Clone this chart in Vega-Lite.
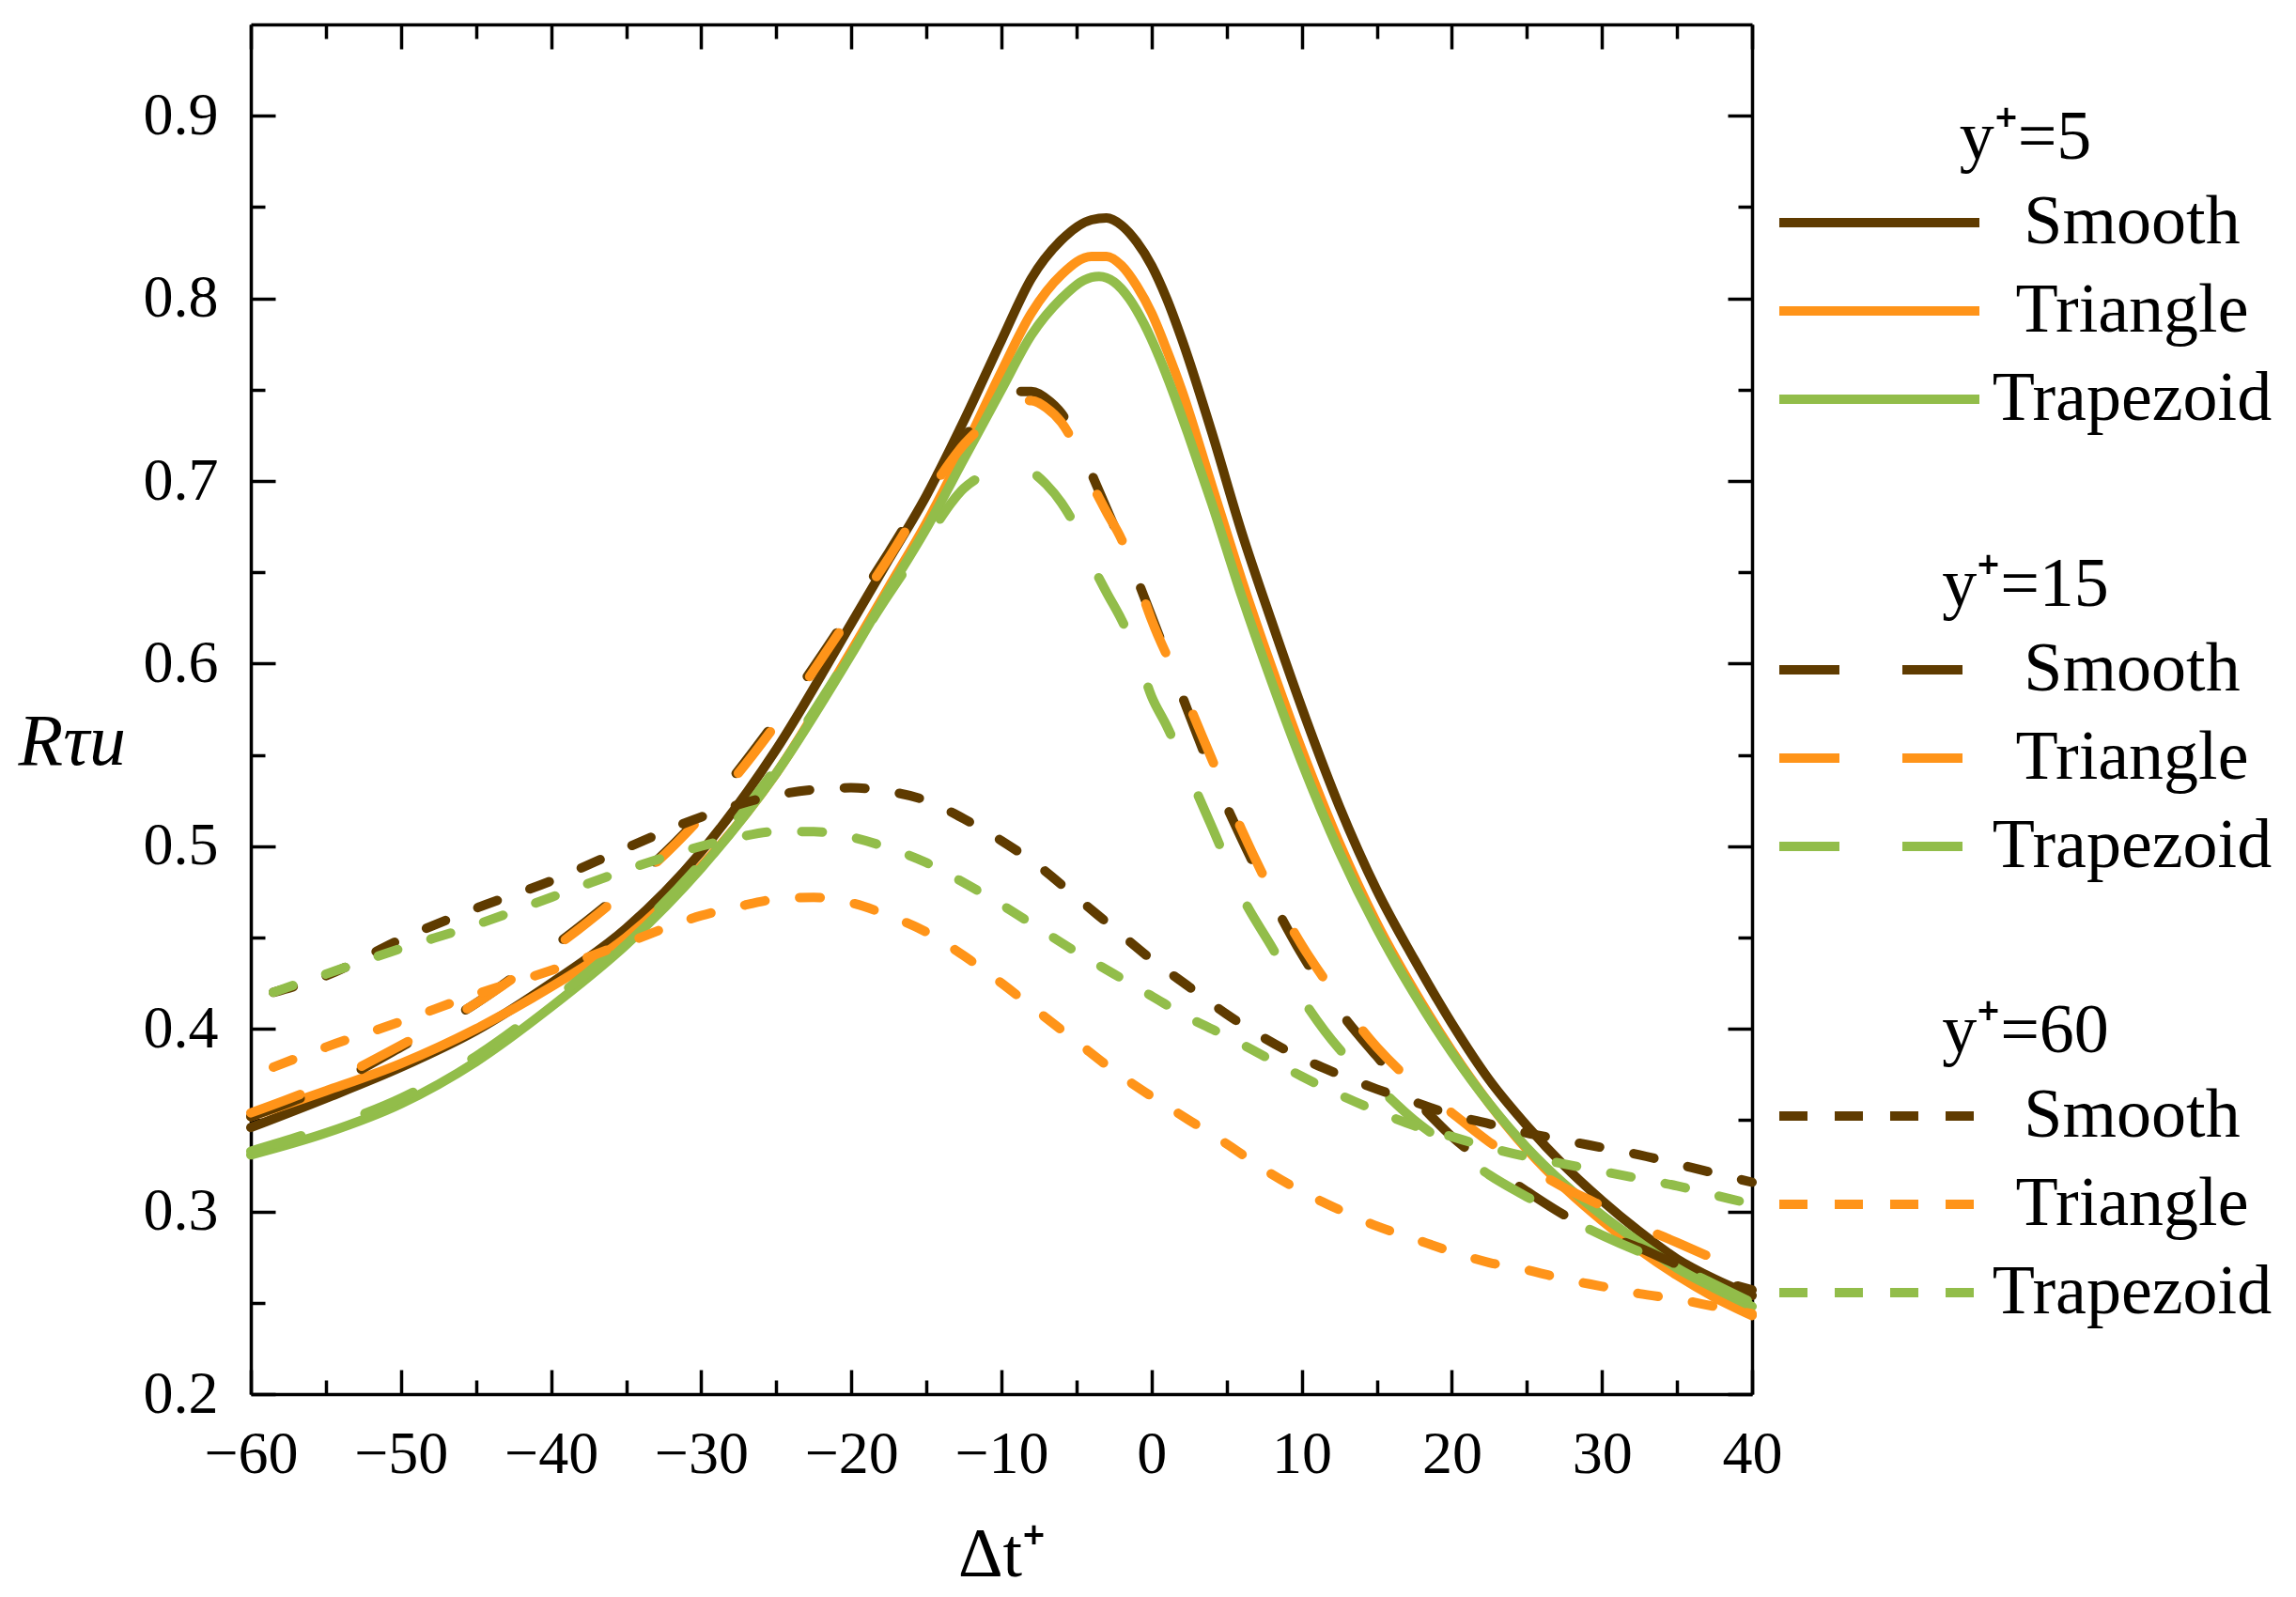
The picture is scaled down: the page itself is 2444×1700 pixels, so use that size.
{
  "$schema": "https://vega.github.io/schema/vega-lite/v6.json",
  "width": 1598,
  "height": 1458,
  "autosize": {"type": "none"},
  "padding": {"left": 267, "top": 26, "right": 579, "bottom": 216},
  "background": "white",
  "data": {
    "values": [
      {"g": "y5", "s": "Smooth", "x": -60, "v": 0.346}, {"g": "y5", "s": "Smooth", "x": -55, "v": 0.362}, {"g": "y5", "s": "Smooth", "x": -50, "v": 0.379}, {"g": "y5", "s": "Smooth", "x": -45, "v": 0.399}, {"g": "y5", "s": "Smooth", "x": -40, "v": 0.425}, {"g": "y5", "s": "Smooth", "x": -35, "v": 0.455}, {"g": "y5", "s": "Smooth", "x": -30, "v": 0.497}, {"g": "y5", "s": "Smooth", "x": -25, "v": 0.553}, {"g": "y5", "s": "Smooth", "x": -20, "v": 0.622}, {"g": "y5", "s": "Smooth", "x": -17.5, "v": 0.657}, {"g": "y5", "s": "Smooth", "x": -15, "v": 0.692}, {"g": "y5", "s": "Smooth", "x": -12.5, "v": 0.733}, {"g": "y5", "s": "Smooth", "x": -10, "v": 0.777}, {"g": "y5", "s": "Smooth", "x": -8, "v": 0.811}, {"g": "y5", "s": "Smooth", "x": -6, "v": 0.832}, {"g": "y5", "s": "Smooth", "x": -4, "v": 0.843}, {"g": "y5", "s": "Smooth", "x": -3, "v": 0.844}, {"g": "y5", "s": "Smooth", "x": -2, "v": 0.840}, {"g": "y5", "s": "Smooth", "x": -1, "v": 0.831}, {"g": "y5", "s": "Smooth", "x": 0, "v": 0.818}, {"g": "y5", "s": "Smooth", "x": 1, "v": 0.800}, {"g": "y5", "s": "Smooth", "x": 2, "v": 0.778}, {"g": "y5", "s": "Smooth", "x": 4, "v": 0.727}, {"g": "y5", "s": "Smooth", "x": 6, "v": 0.672}, {"g": "y5", "s": "Smooth", "x": 8, "v": 0.623}, {"g": "y5", "s": "Smooth", "x": 10, "v": 0.576}, {"g": "y5", "s": "Smooth", "x": 12.5, "v": 0.522}, {"g": "y5", "s": "Smooth", "x": 15, "v": 0.476}, {"g": "y5", "s": "Smooth", "x": 17.5, "v": 0.438}, {"g": "y5", "s": "Smooth", "x": 20, "v": 0.403}, {"g": "y5", "s": "Smooth", "x": 22.5, "v": 0.372}, {"g": "y5", "s": "Smooth", "x": 25, "v": 0.347}, {"g": "y5", "s": "Smooth", "x": 27.5, "v": 0.325}, {"g": "y5", "s": "Smooth", "x": 30, "v": 0.306}, {"g": "y5", "s": "Smooth", "x": 32.5, "v": 0.289}, {"g": "y5", "s": "Smooth", "x": 35, "v": 0.274}, {"g": "y5", "s": "Smooth", "x": 37.5, "v": 0.263}, {"g": "y5", "s": "Smooth", "x": 40, "v": 0.254},

      {"g": "y5", "s": "Triangle", "x": -60, "v": 0.352}, {"g": "y5", "s": "Triangle", "x": -55, "v": 0.366}, {"g": "y5", "s": "Triangle", "x": -50, "v": 0.381}, {"g": "y5", "s": "Triangle", "x": -45, "v": 0.400}, {"g": "y5", "s": "Triangle", "x": -40, "v": 0.423}, {"g": "y5", "s": "Triangle", "x": -35, "v": 0.450}, {"g": "y5", "s": "Triangle", "x": -30, "v": 0.489}, {"g": "y5", "s": "Triangle", "x": -25, "v": 0.540}, {"g": "y5", "s": "Triangle", "x": -20, "v": 0.607}, {"g": "y5", "s": "Triangle", "x": -17.5, "v": 0.642}, {"g": "y5", "s": "Triangle", "x": -15, "v": 0.677}, {"g": "y5", "s": "Triangle", "x": -12.5, "v": 0.717}, {"g": "y5", "s": "Triangle", "x": -10, "v": 0.760}, {"g": "y5", "s": "Triangle", "x": -8, "v": 0.792}, {"g": "y5", "s": "Triangle", "x": -6, "v": 0.813}, {"g": "y5", "s": "Triangle", "x": -4, "v": 0.823}, {"g": "y5", "s": "Triangle", "x": -3, "v": 0.823}, {"g": "y5", "s": "Triangle", "x": -2, "v": 0.818}, {"g": "y5", "s": "Triangle", "x": -1, "v": 0.807}, {"g": "y5", "s": "Triangle", "x": 0, "v": 0.792}, {"g": "y5", "s": "Triangle", "x": 1, "v": 0.772}, {"g": "y5", "s": "Triangle", "x": 2, "v": 0.750}, {"g": "y5", "s": "Triangle", "x": 4, "v": 0.698}, {"g": "y5", "s": "Triangle", "x": 6, "v": 0.646}, {"g": "y5", "s": "Triangle", "x": 8, "v": 0.598}, {"g": "y5", "s": "Triangle", "x": 10, "v": 0.553}, {"g": "y5", "s": "Triangle", "x": 12.5, "v": 0.502}, {"g": "y5", "s": "Triangle", "x": 15, "v": 0.458}, {"g": "y5", "s": "Triangle", "x": 17.5, "v": 0.421}, {"g": "y5", "s": "Triangle", "x": 20, "v": 0.388}, {"g": "y5", "s": "Triangle", "x": 22.5, "v": 0.359}, {"g": "y5", "s": "Triangle", "x": 25, "v": 0.334}, {"g": "y5", "s": "Triangle", "x": 27.5, "v": 0.313}, {"g": "y5", "s": "Triangle", "x": 30, "v": 0.295}, {"g": "y5", "s": "Triangle", "x": 32.5, "v": 0.279}, {"g": "y5", "s": "Triangle", "x": 35, "v": 0.265}, {"g": "y5", "s": "Triangle", "x": 37.5, "v": 0.253}, {"g": "y5", "s": "Triangle", "x": 40, "v": 0.243},

      {"g": "y5", "s": "Trapezoid", "x": -60, "v": 0.331}, {"g": "y5", "s": "Trapezoid", "x": -55, "v": 0.343}, {"g": "y5", "s": "Trapezoid", "x": -50, "v": 0.359}, {"g": "y5", "s": "Trapezoid", "x": -45, "v": 0.382}, {"g": "y5", "s": "Trapezoid", "x": -40, "v": 0.412}, {"g": "y5", "s": "Trapezoid", "x": -35, "v": 0.446}, {"g": "y5", "s": "Trapezoid", "x": -30, "v": 0.488}, {"g": "y5", "s": "Trapezoid", "x": -25, "v": 0.540}, {"g": "y5", "s": "Trapezoid", "x": -20, "v": 0.605}, {"g": "y5", "s": "Trapezoid", "x": -17.5, "v": 0.640}, {"g": "y5", "s": "Trapezoid", "x": -15, "v": 0.674}, {"g": "y5", "s": "Trapezoid", "x": -12.5, "v": 0.712}, {"g": "y5", "s": "Trapezoid", "x": -10, "v": 0.750}, {"g": "y5", "s": "Trapezoid", "x": -8, "v": 0.780}, {"g": "y5", "s": "Trapezoid", "x": -6, "v": 0.800}, {"g": "y5", "s": "Trapezoid", "x": -4.5, "v": 0.810}, {"g": "y5", "s": "Trapezoid", "x": -3.5, "v": 0.812}, {"g": "y5", "s": "Trapezoid", "x": -2.5, "v": 0.809}, {"g": "y5", "s": "Trapezoid", "x": -1.5, "v": 0.800}, {"g": "y5", "s": "Trapezoid", "x": -0.5, "v": 0.786}, {"g": "y5", "s": "Trapezoid", "x": 0.5, "v": 0.768}, {"g": "y5", "s": "Trapezoid", "x": 1.5, "v": 0.747}, {"g": "y5", "s": "Trapezoid", "x": 2.5, "v": 0.724}, {"g": "y5", "s": "Trapezoid", "x": 4, "v": 0.688}, {"g": "y5", "s": "Trapezoid", "x": 6, "v": 0.637}, {"g": "y5", "s": "Trapezoid", "x": 8, "v": 0.590}, {"g": "y5", "s": "Trapezoid", "x": 10, "v": 0.546}, {"g": "y5", "s": "Trapezoid", "x": 12.5, "v": 0.497}, {"g": "y5", "s": "Trapezoid", "x": 15, "v": 0.455}, {"g": "y5", "s": "Trapezoid", "x": 17.5, "v": 0.419}, {"g": "y5", "s": "Trapezoid", "x": 20, "v": 0.387}, {"g": "y5", "s": "Trapezoid", "x": 22.5, "v": 0.359}, {"g": "y5", "s": "Trapezoid", "x": 25, "v": 0.335}, {"g": "y5", "s": "Trapezoid", "x": 27.5, "v": 0.315}, {"g": "y5", "s": "Trapezoid", "x": 30, "v": 0.298}, {"g": "y5", "s": "Trapezoid", "x": 32.5, "v": 0.283}, {"g": "y5", "s": "Trapezoid", "x": 35, "v": 0.269}, {"g": "y5", "s": "Trapezoid", "x": 37.5, "v": 0.258}, {"g": "y5", "s": "Trapezoid", "x": 40, "v": 0.248},

      {"g": "y15", "s": "Smooth", "x": -60, "v": 0.352}, {"g": "y15", "s": "Smooth", "x": -55, "v": 0.368}, {"g": "y15", "s": "Smooth", "x": -50, "v": 0.390}, {"g": "y15", "s": "Smooth", "x": -45, "v": 0.414}, {"g": "y15", "s": "Smooth", "x": -40, "v": 0.444}, {"g": "y15", "s": "Smooth", "x": -35, "v": 0.477}, {"g": "y15", "s": "Smooth", "x": -30, "v": 0.517}, {"g": "y15", "s": "Smooth", "x": -25, "v": 0.569}, {"g": "y15", "s": "Smooth", "x": -20, "v": 0.629}, {"g": "y15", "s": "Smooth", "x": -17.5, "v": 0.661}, {"g": "y15", "s": "Smooth", "x": -15, "v": 0.694}, {"g": "y15", "s": "Smooth", "x": -12.5, "v": 0.724}, {"g": "y15", "s": "Smooth", "x": -11, "v": 0.737}, {"g": "y15", "s": "Smooth", "x": -10, "v": 0.744}, {"g": "y15", "s": "Smooth", "x": -9, "v": 0.749}, {"g": "y15", "s": "Smooth", "x": -8, "v": 0.749}, {"g": "y15", "s": "Smooth", "x": -7, "v": 0.745}, {"g": "y15", "s": "Smooth", "x": -6, "v": 0.737}, {"g": "y15", "s": "Smooth", "x": -5, "v": 0.723}, {"g": "y15", "s": "Smooth", "x": -4, "v": 0.704}, {"g": "y15", "s": "Smooth", "x": -3, "v": 0.685}, {"g": "y15", "s": "Smooth", "x": -2, "v": 0.666}, {"g": "y15", "s": "Smooth", "x": -1, "v": 0.647}, {"g": "y15", "s": "Smooth", "x": 0, "v": 0.626}, {"g": "y15", "s": "Smooth", "x": 2, "v": 0.583}, {"g": "y15", "s": "Smooth", "x": 4, "v": 0.541}, {"g": "y15", "s": "Smooth", "x": 6, "v": 0.504}, {"g": "y15", "s": "Smooth", "x": 8, "v": 0.471}, {"g": "y15", "s": "Smooth", "x": 10, "v": 0.441}, {"g": "y15", "s": "Smooth", "x": 12.5, "v": 0.410}, {"g": "y15", "s": "Smooth", "x": 15, "v": 0.385}, {"g": "y15", "s": "Smooth", "x": 17.5, "v": 0.362}, {"g": "y15", "s": "Smooth", "x": 20, "v": 0.341}, {"g": "y15", "s": "Smooth", "x": 22.5, "v": 0.325}, {"g": "y15", "s": "Smooth", "x": 25, "v": 0.311}, {"g": "y15", "s": "Smooth", "x": 27.5, "v": 0.298}, {"g": "y15", "s": "Smooth", "x": 30, "v": 0.288}, {"g": "y15", "s": "Smooth", "x": 32.5, "v": 0.280}, {"g": "y15", "s": "Smooth", "x": 35, "v": 0.271}, {"g": "y15", "s": "Smooth", "x": 37.5, "v": 0.263}, {"g": "y15", "s": "Smooth", "x": 40, "v": 0.257},

      {"g": "y15", "s": "Triangle", "x": -60, "v": 0.354}, {"g": "y15", "s": "Triangle", "x": -55, "v": 0.370}, {"g": "y15", "s": "Triangle", "x": -50, "v": 0.391}, {"g": "y15", "s": "Triangle", "x": -45, "v": 0.414}, {"g": "y15", "s": "Triangle", "x": -40, "v": 0.443}, {"g": "y15", "s": "Triangle", "x": -35, "v": 0.476}, {"g": "y15", "s": "Triangle", "x": -30, "v": 0.516}, {"g": "y15", "s": "Triangle", "x": -25, "v": 0.567}, {"g": "y15", "s": "Triangle", "x": -20, "v": 0.627}, {"g": "y15", "s": "Triangle", "x": -17.5, "v": 0.658}, {"g": "y15", "s": "Triangle", "x": -15, "v": 0.691}, {"g": "y15", "s": "Triangle", "x": -12.5, "v": 0.720}, {"g": "y15", "s": "Triangle", "x": -11, "v": 0.732}, {"g": "y15", "s": "Triangle", "x": -10, "v": 0.739}, {"g": "y15", "s": "Triangle", "x": -9, "v": 0.744}, {"g": "y15", "s": "Triangle", "x": -8, "v": 0.744}, {"g": "y15", "s": "Triangle", "x": -7, "v": 0.740}, {"g": "y15", "s": "Triangle", "x": -6, "v": 0.732}, {"g": "y15", "s": "Triangle", "x": -5, "v": 0.718}, {"g": "y15", "s": "Triangle", "x": -4, "v": 0.699}, {"g": "y15", "s": "Triangle", "x": -3, "v": 0.683}, {"g": "y15", "s": "Triangle", "x": -2, "v": 0.668}, {"g": "y15", "s": "Triangle", "x": -1, "v": 0.647}, {"g": "y15", "s": "Triangle", "x": 0, "v": 0.624}, {"g": "y15", "s": "Triangle", "x": 2, "v": 0.587}, {"g": "y15", "s": "Triangle", "x": 4, "v": 0.548}, {"g": "y15", "s": "Triangle", "x": 6, "v": 0.509}, {"g": "y15", "s": "Triangle", "x": 8, "v": 0.475}, {"g": "y15", "s": "Triangle", "x": 10, "v": 0.446}, {"g": "y15", "s": "Triangle", "x": 12.5, "v": 0.416}, {"g": "y15", "s": "Triangle", "x": 15, "v": 0.390}, {"g": "y15", "s": "Triangle", "x": 17.5, "v": 0.370}, {"g": "y15", "s": "Triangle", "x": 20, "v": 0.354}, {"g": "y15", "s": "Triangle", "x": 22.5, "v": 0.338}, {"g": "y15", "s": "Triangle", "x": 25, "v": 0.325}, {"g": "y15", "s": "Triangle", "x": 27.5, "v": 0.313}, {"g": "y15", "s": "Triangle", "x": 30, "v": 0.303}, {"g": "y15", "s": "Triangle", "x": 32.5, "v": 0.292}, {"g": "y15", "s": "Triangle", "x": 35, "v": 0.283}, {"g": "y15", "s": "Triangle", "x": 37.5, "v": 0.274}, {"g": "y15", "s": "Triangle", "x": 40, "v": 0.265},

      {"g": "y15", "s": "Trapezoid", "x": -60, "v": 0.333}, {"g": "y15", "s": "Trapezoid", "x": -55, "v": 0.346}, {"g": "y15", "s": "Trapezoid", "x": -50, "v": 0.362}, {"g": "y15", "s": "Trapezoid", "x": -45, "v": 0.385}, {"g": "y15", "s": "Trapezoid", "x": -40, "v": 0.415}, {"g": "y15", "s": "Trapezoid", "x": -35, "v": 0.449}, {"g": "y15", "s": "Trapezoid", "x": -30, "v": 0.491}, {"g": "y15", "s": "Trapezoid", "x": -25, "v": 0.543}, {"g": "y15", "s": "Trapezoid", "x": -20, "v": 0.606}, {"g": "y15", "s": "Trapezoid", "x": -17.5, "v": 0.638}, {"g": "y15", "s": "Trapezoid", "x": -15, "v": 0.668}, {"g": "y15", "s": "Trapezoid", "x": -12.5, "v": 0.696}, {"g": "y15", "s": "Trapezoid", "x": -11, "v": 0.704}, {"g": "y15", "s": "Trapezoid", "x": -10, "v": 0.707}, {"g": "y15", "s": "Trapezoid", "x": -9, "v": 0.708}, {"g": "y15", "s": "Trapezoid", "x": -8, "v": 0.705}, {"g": "y15", "s": "Trapezoid", "x": -7, "v": 0.698}, {"g": "y15", "s": "Trapezoid", "x": -6, "v": 0.688}, {"g": "y15", "s": "Trapezoid", "x": -5, "v": 0.674}, {"g": "y15", "s": "Trapezoid", "x": -4, "v": 0.655}, {"g": "y15", "s": "Trapezoid", "x": -3, "v": 0.639}, {"g": "y15", "s": "Trapezoid", "x": -2, "v": 0.624}, {"g": "y15", "s": "Trapezoid", "x": -1, "v": 0.606}, {"g": "y15", "s": "Trapezoid", "x": 0, "v": 0.582}, {"g": "y15", "s": "Trapezoid", "x": 1, "v": 0.566}, {"g": "y15", "s": "Trapezoid", "x": 2, "v": 0.548}, {"g": "y15", "s": "Trapezoid", "x": 4, "v": 0.511}, {"g": "y15", "s": "Trapezoid", "x": 6, "v": 0.473}, {"g": "y15", "s": "Trapezoid", "x": 8, "v": 0.445}, {"g": "y15", "s": "Trapezoid", "x": 10, "v": 0.417}, {"g": "y15", "s": "Trapezoid", "x": 12.5, "v": 0.389}, {"g": "y15", "s": "Trapezoid", "x": 15, "v": 0.369}, {"g": "y15", "s": "Trapezoid", "x": 17.5, "v": 0.350}, {"g": "y15", "s": "Trapezoid", "x": 20, "v": 0.335}, {"g": "y15", "s": "Trapezoid", "x": 22.5, "v": 0.320}, {"g": "y15", "s": "Trapezoid", "x": 25, "v": 0.308}, {"g": "y15", "s": "Trapezoid", "x": 27.5, "v": 0.297}, {"g": "y15", "s": "Trapezoid", "x": 30, "v": 0.287}, {"g": "y15", "s": "Trapezoid", "x": 32.5, "v": 0.278}, {"g": "y15", "s": "Trapezoid", "x": 35, "v": 0.270}, {"g": "y15", "s": "Trapezoid", "x": 37.5, "v": 0.260}, {"g": "y15", "s": "Trapezoid", "x": 40, "v": 0.250},

      {"g": "y60", "s": "Smooth", "x": -58.5, "v": 0.420}, {"g": "y60", "s": "Smooth", "x": -55, "v": 0.429}, {"g": "y60", "s": "Smooth", "x": -50, "v": 0.449}, {"g": "y60", "s": "Smooth", "x": -45, "v": 0.466}, {"g": "y60", "s": "Smooth", "x": -40, "v": 0.481}, {"g": "y60", "s": "Smooth", "x": -35, "v": 0.499}, {"g": "y60", "s": "Smooth", "x": -30, "v": 0.516}, {"g": "y60", "s": "Smooth", "x": -25, "v": 0.528}, {"g": "y60", "s": "Smooth", "x": -22.5, "v": 0.531}, {"g": "y60", "s": "Smooth", "x": -20, "v": 0.532}, {"g": "y60", "s": "Smooth", "x": -17.5, "v": 0.530}, {"g": "y60", "s": "Smooth", "x": -15, "v": 0.525}, {"g": "y60", "s": "Smooth", "x": -12.5, "v": 0.515}, {"g": "y60", "s": "Smooth", "x": -10, "v": 0.503}, {"g": "y60", "s": "Smooth", "x": -7.5, "v": 0.489}, {"g": "y60", "s": "Smooth", "x": -5, "v": 0.472}, {"g": "y60", "s": "Smooth", "x": -2.5, "v": 0.455}, {"g": "y60", "s": "Smooth", "x": 0, "v": 0.438}, {"g": "y60", "s": "Smooth", "x": 2.5, "v": 0.423}, {"g": "y60", "s": "Smooth", "x": 5, "v": 0.408}, {"g": "y60", "s": "Smooth", "x": 7.5, "v": 0.395}, {"g": "y60", "s": "Smooth", "x": 10, "v": 0.384}, {"g": "y60", "s": "Smooth", "x": 12.5, "v": 0.375}, {"g": "y60", "s": "Smooth", "x": 15, "v": 0.367}, {"g": "y60", "s": "Smooth", "x": 17.5, "v": 0.360}, {"g": "y60", "s": "Smooth", "x": 20, "v": 0.353}, {"g": "y60", "s": "Smooth", "x": 22.5, "v": 0.348}, {"g": "y60", "s": "Smooth", "x": 25, "v": 0.343}, {"g": "y60", "s": "Smooth", "x": 27.5, "v": 0.339}, {"g": "y60", "s": "Smooth", "x": 30, "v": 0.335}, {"g": "y60", "s": "Smooth", "x": 32.5, "v": 0.331}, {"g": "y60", "s": "Smooth", "x": 35, "v": 0.326}, {"g": "y60", "s": "Smooth", "x": 37.5, "v": 0.321}, {"g": "y60", "s": "Smooth", "x": 40, "v": 0.316},

      {"g": "y60", "s": "Triangle", "x": -58.5, "v": 0.379}, {"g": "y60", "s": "Triangle", "x": -55, "v": 0.390}, {"g": "y60", "s": "Triangle", "x": -50, "v": 0.404}, {"g": "y60", "s": "Triangle", "x": -45, "v": 0.419}, {"g": "y60", "s": "Triangle", "x": -40, "v": 0.432}, {"g": "y60", "s": "Triangle", "x": -35, "v": 0.447}, {"g": "y60", "s": "Triangle", "x": -30, "v": 0.462}, {"g": "y60", "s": "Triangle", "x": -27.5, "v": 0.467}, {"g": "y60", "s": "Triangle", "x": -25, "v": 0.471}, {"g": "y60", "s": "Triangle", "x": -22.5, "v": 0.472}, {"g": "y60", "s": "Triangle", "x": -20, "v": 0.469}, {"g": "y60", "s": "Triangle", "x": -17.5, "v": 0.462}, {"g": "y60", "s": "Triangle", "x": -15, "v": 0.453}, {"g": "y60", "s": "Triangle", "x": -12.5, "v": 0.440}, {"g": "y60", "s": "Triangle", "x": -10, "v": 0.425}, {"g": "y60", "s": "Triangle", "x": -7.5, "v": 0.409}, {"g": "y60", "s": "Triangle", "x": -5, "v": 0.393}, {"g": "y60", "s": "Triangle", "x": -2.5, "v": 0.377}, {"g": "y60", "s": "Triangle", "x": 0, "v": 0.363}, {"g": "y60", "s": "Triangle", "x": 2.5, "v": 0.350}, {"g": "y60", "s": "Triangle", "x": 5, "v": 0.337}, {"g": "y60", "s": "Triangle", "x": 7.5, "v": 0.323}, {"g": "y60", "s": "Triangle", "x": 10, "v": 0.311}, {"g": "y60", "s": "Triangle", "x": 12.5, "v": 0.301}, {"g": "y60", "s": "Triangle", "x": 15, "v": 0.292}, {"g": "y60", "s": "Triangle", "x": 17.5, "v": 0.285}, {"g": "y60", "s": "Triangle", "x": 20, "v": 0.278}, {"g": "y60", "s": "Triangle", "x": 22.5, "v": 0.272}, {"g": "y60", "s": "Triangle", "x": 25, "v": 0.268}, {"g": "y60", "s": "Triangle", "x": 27.5, "v": 0.263}, {"g": "y60", "s": "Triangle", "x": 30, "v": 0.259}, {"g": "y60", "s": "Triangle", "x": 32.5, "v": 0.255}, {"g": "y60", "s": "Triangle", "x": 35, "v": 0.252}, {"g": "y60", "s": "Triangle", "x": 37.5, "v": 0.248}, {"g": "y60", "s": "Triangle", "x": 40, "v": 0.244},

      {"g": "y60", "s": "Trapezoid", "x": -58.5, "v": 0.420}, {"g": "y60", "s": "Trapezoid", "x": -55, "v": 0.430}, {"g": "y60", "s": "Trapezoid", "x": -50, "v": 0.444}, {"g": "y60", "s": "Trapezoid", "x": -45, "v": 0.457}, {"g": "y60", "s": "Trapezoid", "x": -40, "v": 0.472}, {"g": "y60", "s": "Trapezoid", "x": -35, "v": 0.487}, {"g": "y60", "s": "Trapezoid", "x": -30, "v": 0.500}, {"g": "y60", "s": "Trapezoid", "x": -27.5, "v": 0.505}, {"g": "y60", "s": "Trapezoid", "x": -25, "v": 0.508}, {"g": "y60", "s": "Trapezoid", "x": -22.5, "v": 0.508}, {"g": "y60", "s": "Trapezoid", "x": -20, "v": 0.505}, {"g": "y60", "s": "Trapezoid", "x": -17.5, "v": 0.499}, {"g": "y60", "s": "Trapezoid", "x": -15, "v": 0.491}, {"g": "y60", "s": "Trapezoid", "x": -12.5, "v": 0.480}, {"g": "y60", "s": "Trapezoid", "x": -10, "v": 0.468}, {"g": "y60", "s": "Trapezoid", "x": -7.5, "v": 0.455}, {"g": "y60", "s": "Trapezoid", "x": -5, "v": 0.442}, {"g": "y60", "s": "Trapezoid", "x": -2.5, "v": 0.430}, {"g": "y60", "s": "Trapezoid", "x": 0, "v": 0.418}, {"g": "y60", "s": "Trapezoid", "x": 2.5, "v": 0.406}, {"g": "y60", "s": "Trapezoid", "x": 5, "v": 0.396}, {"g": "y60", "s": "Trapezoid", "x": 7.5, "v": 0.385}, {"g": "y60", "s": "Trapezoid", "x": 10, "v": 0.374}, {"g": "y60", "s": "Trapezoid", "x": 12.5, "v": 0.364}, {"g": "y60", "s": "Trapezoid", "x": 15, "v": 0.355}, {"g": "y60", "s": "Trapezoid", "x": 17.5, "v": 0.347}, {"g": "y60", "s": "Trapezoid", "x": 20, "v": 0.341}, {"g": "y60", "s": "Trapezoid", "x": 22.5, "v": 0.335}, {"g": "y60", "s": "Trapezoid", "x": 25, "v": 0.330}, {"g": "y60", "s": "Trapezoid", "x": 27.5, "v": 0.326}, {"g": "y60", "s": "Trapezoid", "x": 30, "v": 0.322}, {"g": "y60", "s": "Trapezoid", "x": 32.5, "v": 0.318}, {"g": "y60", "s": "Trapezoid", "x": 35, "v": 0.314}, {"g": "y60", "s": "Trapezoid", "x": 37.5, "v": 0.309}, {"g": "y60", "s": "Trapezoid", "x": 40, "v": 0.304}
    ]
  },
  "layer": [
    {
      "transform": [{"filter": {"field": "g", "equal": "y5"}}],
      "mark": {"type": "line", "strokeWidth": 10, "strokeCap": "round", "interpolate": "monotone"},
      "encoding": {
        "x": {
          "field": "x", "type": "quantitative",
          "scale": {"domain": [-60, 40], "nice": false, "zero": false},
          "axis": {
            "orient": "bottom",
            "values": [-60, -55, -50, -45, -40, -35, -30, -25, -20, -15, -10, -5, 0, 5, 10, 15, 20, 25, 30, 35, 40],
            "format": "d",
            "labelExpr": "datum.value % 10 === 0 ? datum.label : ''",
            "tickSize": {"condition": {"test": "datum.value % 10 === 0", "value": -26}, "value": -15},
            "labelPadding": 58,
            "title": "Δt⁺",
            "titleFontSize": 74,
            "titleY": 193,
            "titleBaseline": "alphabetic"
          }
        },
        "y": {
          "field": "v", "type": "quantitative",
          "scale": {"domain": [0.2, 0.95], "nice": false, "zero": false},
          "axis": {
            "orient": "left",
            "values": [0.2, 0.25, 0.3, 0.35, 0.4, 0.45, 0.5, 0.55, 0.6, 0.65, 0.7, 0.75, 0.8, 0.85, 0.9],
            "format": ".1f",
            "labelExpr": "round(datum.value * 100) % 10 === 0 ? datum.label : ''",
            "tickSize": {"condition": {"test": "round(datum.value * 100) % 10 === 0", "value": -26}, "value": -15},
            "labelPadding": 61,
            "title": "Rτu",
            "titleAngle": 0,
            "titleFontSize": 78,
            "titleFontStyle": "italic",
            "titleX": -248,
            "titleY": 787,
            "titleAlign": "left",
            "titleBaseline": "alphabetic"
          }
        },
        "color": {
          "field": "s", "type": "nominal",
          "scale": {"domain": ["Smooth", "Triangle", "Trapezoid"], "range": ["#5F3B00", "#FF9419", "#92BD4A"]},
          "legend": {"title": "y⁺=5", "legendX": 1627, "legendY": 85}
        }
      }
    },
    {
      "transform": [{"filter": {"field": "g", "equal": "y15"}}],
      "mark": {"type": "line", "strokeWidth": 10, "strokeCap": "round", "strokeDash": [56, 72], "interpolate": "monotone"},
      "encoding": {
        "x": {
          "field": "x", "type": "quantitative",
          "axis": {
            "orient": "top",
            "values": [-60, -55, -50, -45, -40, -35, -30, -25, -20, -15, -10, -5, 0, 5, 10, 15, 20, 25, 30, 35, 40],
            "labels": false,
            "title": null,
            "tickSize": {"condition": {"test": "datum.value % 10 === 0", "value": -26}, "value": -15}
          }
        },
        "y": {
          "field": "v", "type": "quantitative",
          "axis": {
            "orient": "right",
            "values": [0.2, 0.25, 0.3, 0.35, 0.4, 0.45, 0.5, 0.55, 0.6, 0.65, 0.7, 0.75, 0.8, 0.85, 0.9],
            "labels": false,
            "title": null,
            "tickSize": {"condition": {"test": "round(datum.value * 100) % 10 === 0", "value": -26}, "value": -15}
          }
        },
        "color": {
          "field": "s", "type": "nominal",
          "scale": {"domain": ["Smooth", "Triangle", "Trapezoid"], "range": ["#5F3B00", "#FF9419", "#92BD4A"]},
          "legend": {"title": "y⁺=15", "legendX": 1627, "legendY": 561, "symbolDash": [64, 67]}
        }
      }
    },
    {
      "transform": [{"filter": {"field": "g", "equal": "y60"}}],
      "mark": {"type": "line", "strokeWidth": 10, "strokeCap": "round", "strokeDash": [22, 37], "interpolate": "monotone"},
      "encoding": {
        "x": {"field": "x", "type": "quantitative", "axis": null},
        "y": {"field": "v", "type": "quantitative", "axis": null},
        "color": {
          "field": "s", "type": "nominal",
          "scale": {"domain": ["Smooth", "Triangle", "Trapezoid"], "range": ["#5F3B00", "#FF9419", "#92BD4A"]},
          "legend": {"title": "y⁺=60", "legendX": 1627, "legendY": 1036, "symbolDash": [30, 29]}
        }
      }
    }
  ],
  "resolve": {
    "scale": {"color": "independent"},
    "axis": {"x": "independent", "y": "independent"}
  },
  "config": {
    "view": {"stroke": null},
    "axis": {
      "grid": false,
      "domainColor": "#000000",
      "domainWidth": 3.5,
      "tickColor": "#000000",
      "tickWidth": 3.5,
      "labelFont": "Liberation Serif",
      "labelFontSize": 64,
      "labelColor": "#000000",
      "labelFlush": false,
      "labelOverlap": false,
      "titleFont": "Liberation Serif",
      "titleColor": "#000000",
      "titleFontWeight": "normal"
    },
    "legend": {
      "orient": "none",
      "direction": "vertical",
      "padding": 0,
      "symbolType": "M-8,0H8",
      "symbolSize": 709,
      "symbolStrokeWidth": 10,
      "symbolOffset": 69.5,
      "labelFont": "Liberation Serif",
      "labelFontSize": 74,
      "labelColor": "#000000",
      "labelAlign": "center",
      "labelOffset": 232,
      "labelLimit": 1000,
      "titleFont": "Liberation Serif",
      "titleFontSize": 74,
      "titleFontWeight": "normal",
      "titleColor": "#000000",
      "titleAnchor": "middle",
      "titleLimit": 1000,
      "titlePadding": 15,
      "rowPadding": 20
    }
  }
}
